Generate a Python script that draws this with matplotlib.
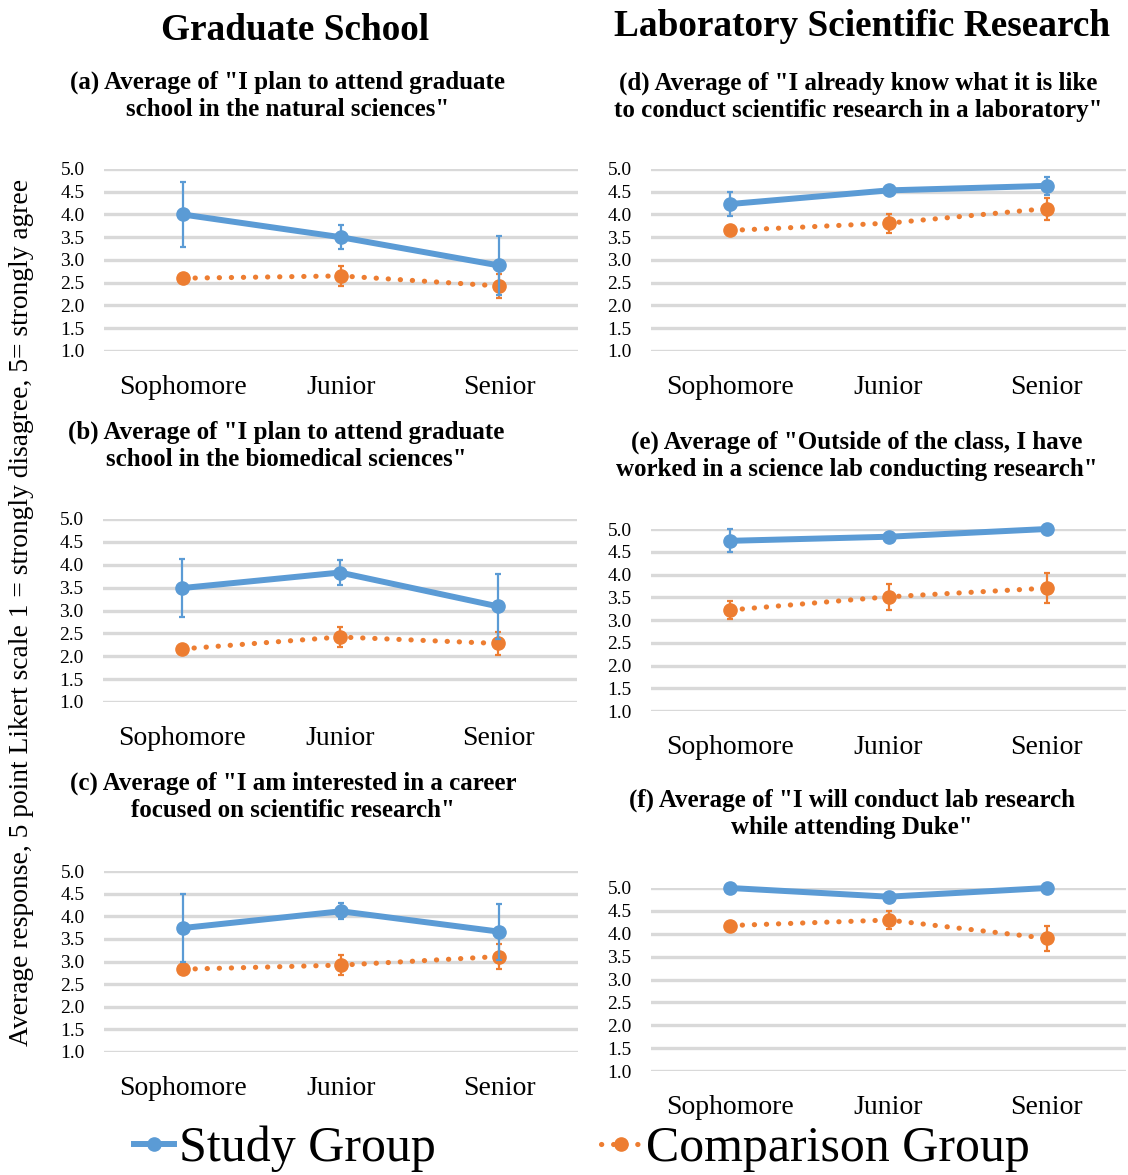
import matplotlib.pyplot as plt
from matplotlib.lines import Line2D

plt.rcParams["font.family"] = ["Liberation Serif", "DejaVu Serif"]

categories = ["Sophomore", "Junior", "Senior"]

# Study group means / error bars, comparison group means / error bars
a_study = [4.00, 3.50, 2.88]
a_study_err = [0.72, 0.26, 0.65]
a_comp = [2.60, 2.65, 2.43]
a_comp_err = [0.04, 0.22, 0.27]

b_study = [3.49, 3.83, 3.09]
b_study_err = [0.64, 0.28, 0.71]
b_comp = [2.16, 2.42, 2.28]
b_comp_err = [0.04, 0.22, 0.26]

c_study = [3.74, 4.11, 3.66]
c_study_err = [0.76, 0.18, 0.62]
c_comp = [2.83, 2.92, 3.11]
c_comp_err = [0.04, 0.22, 0.27]

d_study = [4.23, 4.53, 4.63]
d_study_err = [0.26, 0.06, 0.20]
d_comp = [3.65, 3.81, 4.13]
d_comp_err = [0.10, 0.21, 0.24]

e_study = [4.74, 4.83, 5.00]
e_study_err = [0.25, 0.05, 0.00]
e_comp = [3.22, 3.51, 3.70]
e_comp_err = [0.20, 0.28, 0.33]

f_study = [5.00, 4.81, 5.00]
f_study_err = [0.00, 0.00, 0.00]
f_comp = [4.18, 4.30, 3.90]
f_comp_err = [0.04, 0.19, 0.27]

titles = [
    '(a) Average of "I plan to attend graduate\nschool in the natural sciences"',
    '(b) Average of "I plan to attend graduate\nschool in the biomedical sciences"',
    '(c) Average of "I am interested in a career\nfocused on scientific research"',
    '(d) Average of "I already know what it is like\nto conduct scientific research in a laboratory"',
    '(e) Average of "Outside of the class, I have\nworked in a science lab conducting research"',
    '(f) Average of "I will conduct lab research\nwhile attending Duke"',
]

blue = "#5B9BD5"
orange = "#ED7D31"
W, H = 1128, 1175

# axes boxes in pixels: left, right, y of 5.0, y of 1.0
boxes = [
    (104, 578, 169, 351),
    (103, 577, 519, 702),
    (104, 578, 871, 1052),
    (651, 1126, 169, 351),
    (651, 1126, 529, 711),
    (651, 1126, 888, 1071),
]
title_pos = [(288, 96), (286, 446), (293, 797), (858, 97), (857, 456), (852, 814)]

panels = [
    (a_study, a_study_err, a_comp, a_comp_err),
    (b_study, b_study_err, b_comp, b_comp_err),
    (c_study, c_study_err, c_comp, c_comp_err),
    (d_study, d_study_err, d_comp, d_comp_err),
    (e_study, e_study_err, e_comp, e_comp_err),
    (f_study, f_study_err, f_comp, f_comp_err),
]

fig = plt.figure(figsize=(W / 100, H / 100), dpi=100)

x = list(range(len(categories)))
for i, (study, study_err, comp, comp_err) in enumerate(panels):
    l, r, top, bot = boxes[i]
    ax = fig.add_axes([l / W, 1 - bot / H, (r - l) / W, (bot - top) / H])
    ax.set_xlim(-0.5, 2.5)
    ax.set_ylim(1, 5)
    ax.set_yticks([1.0, 1.5, 2.0, 2.5, 3.0, 3.5, 4.0, 4.5, 5.0])
    ax.set_yticklabels([f"{v:.1f}" for v in ax.get_yticks()])
    ax.set_xticks(x)
    ax.set_xticklabels(categories)
    ax.grid(axis="y", color="#D9D9D9", linewidth=2.4)
    ax.set_axisbelow(True)
    for s in ax.spines.values():
        s.set_visible(False)
    ax.tick_params(axis="y", length=0, pad=14, labelsize=14)
    ax.tick_params(axis="x", length=0, pad=17, labelsize=20)

    ax.plot(x, comp, color=orange, linewidth=3.7,
            linestyle=(0, (0.05, 2.3)), dash_capstyle="round",
            marker="o", markersize=9.5, clip_on=False, zorder=3)
    ax.errorbar(x, comp, yerr=comp_err, fmt="none", ecolor=orange,
                elinewidth=1.6, capsize=2.5, capthick=1.6, zorder=3, clip_on=False)
    ax.plot(x, study, color=blue, linewidth=4.3, marker="o",
            markersize=9.5, clip_on=False, zorder=4)
    ax.errorbar(x, study, yerr=study_err, fmt="none", ecolor=blue,
                elinewidth=1.6, capsize=2.5, capthick=1.6, zorder=4, clip_on=False)

    tx, ty = title_pos[i]
    fig.text(tx / W, 1 - ty / H, titles[i], ha="center", va="center",
             fontsize=18, fontweight="bold", linespacing=1.25)

fig.text(295 / W, 1 - 30 / H, "Graduate School", ha="center", va="center",
         fontsize=26.8, fontweight="bold")
fig.text(862 / W, 1 - 27 / H, "Laboratory Scientific Research", ha="center",
         va="center", fontsize=26.8, fontweight="bold")

fig.text(22 / W, 1 - 612 / H,
         "Average response, 5 point Likert scale 1 = strongly disagree, 5= strongly agree",
         rotation=90, ha="center", va="center", fontsize=19.8)

handles = [
    Line2D([], [], color=blue, linewidth=4.3, marker="o", markersize=9.5),
    Line2D([], [], color=orange, linewidth=3.7, linestyle=(0, (0.05, 2.3)),
           dash_capstyle="round", marker="o", markersize=9.5),
]
fig.legend(handles, ["Study Group", "Comparison Group"], loc="center",
           bbox_to_anchor=(582 / W, 1 - 1149 / H), ncol=2, frameon=False,
           fontsize=36, handlelength=0.8, handletextpad=0.1,
           columnspacing=3.3, borderpad=0)

fig.savefig("out.png", dpi=100)
